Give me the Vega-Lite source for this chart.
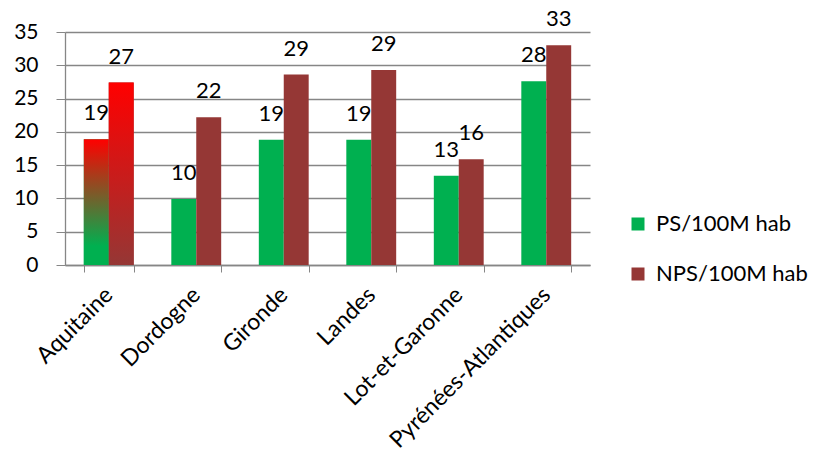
{
  "$schema": "https://vega.github.io/schema/vega-lite/v6.json",
  "width": 525,
  "height": 233,
  "autosize": {"type": "none"},
  "padding": {"left": 65, "top": 32, "right": 228, "bottom": 198},
  "background": "white",
  "config": {
    "view": {"stroke": null},
    "font": "Lato",
    "axis": {"labelFont": "Lato", "labelColor": "#000000", "labelFontSize": 21, "domainColor": "#868686", "tickColor": "#868686", "gridColor": "#868686", "title": null}
  },
  "data": {
    "values": [
      {"region": "Aquitaine", "series": "PS/100M hab", "value": 18.9},
      {"region": "Aquitaine", "series": "NPS/100M hab", "value": 27.4},
      {"region": "Dordogne", "series": "PS/100M hab", "value": 9.9},
      {"region": "Dordogne", "series": "NPS/100M hab", "value": 22.2},
      {"region": "Gironde", "series": "PS/100M hab", "value": 18.8},
      {"region": "Gironde", "series": "NPS/100M hab", "value": 28.6},
      {"region": "Landes", "series": "PS/100M hab", "value": 18.8},
      {"region": "Landes", "series": "NPS/100M hab", "value": 29.3},
      {"region": "Lot-et-Garonne", "series": "PS/100M hab", "value": 13.4},
      {"region": "Lot-et-Garonne", "series": "NPS/100M hab", "value": 15.9},
      {"region": "Pyrénées-Atlantiques", "series": "PS/100M hab", "value": 27.6},
      {"region": "Pyrénées-Atlantiques", "series": "NPS/100M hab", "value": 33.0}
    ]
  },
  "encoding": {
    "x": {
      "field": "region", "type": "nominal", "sort": null,
      "scale": {"paddingInner": 0.43, "paddingOuter": 0.215},
      "axis": {"labelAngle": -45, "labelAlign": "right", "labelBaseline": "middle", "labelFontSize": 23, "tickBand": "extent", "tickSize": 7, "labelPadding": 19, "labelLimit": 0, "domainWidth": 1.3}
    },
    "xOffset": {"field": "series", "type": "nominal", "sort": ["PS/100M hab", "NPS/100M hab"]},
    "y": {
      "field": "value", "type": "quantitative",
      "scale": {"domain": [0, 35], "nice": false},
      "axis": {"values": [0, 5, 10, 15, 20, 25, 30, 35], "tickSize": 9, "labelPadding": 18, "gridWidth": 1.3, "domainWidth": 1.3}
    }
  },
  "layer": [
    {
      "mark": {"type": "bar"},
      "encoding": {
        "color": {
          "field": "series", "type": "nominal",
          "sort": ["PS/100M hab", "NPS/100M hab"],
          "scale": {"domain": ["PS/100M hab", "NPS/100M hab"], "range": ["#00b050", "#953735"]},
          "legend": {"orient": "none", "legendX": 562, "legendY": 181, "title": null, "symbolType": "square", "symbolSize": 169, "symbolStrokeWidth": 0, "labelFontSize": 22, "labelFont": "Lato", "labelColor": "#000000", "rowPadding": 28, "labelOffset": 7}
        }
      }
    },
    {
      "transform": [{"filter": "datum.region === 'Aquitaine' && datum.series === 'PS/100M hab'"}],
      "mark": {"type": "bar", "color": {"gradient": "linear", "x1": 0, "y1": 0, "x2": 0, "y2": 1, "stops": [{"offset": 0, "color": "#ff0000"}, {"offset": 0.85, "color": "#00b050"}, {"offset": 1, "color": "#00b050"}]}}
    },
    {
      "transform": [{"filter": "datum.region === 'Aquitaine' && datum.series === 'NPS/100M hab'"}],
      "mark": {"type": "bar", "color": {"gradient": "linear", "x1": 0, "y1": 0, "x2": 0, "y2": 1, "stops": [{"offset": 0, "color": "#ff0000"}, {"offset": 1, "color": "#953735"}]}}
    },
    {
      "mark": {"type": "text", "baseline": "alphabetic", "dy": -19, "fontSize": 22, "font": "Lato", "color": "#000000"},
      "encoding": {"text": {"field": "value", "type": "quantitative", "format": ".0f"}}
    }
  ]
}
